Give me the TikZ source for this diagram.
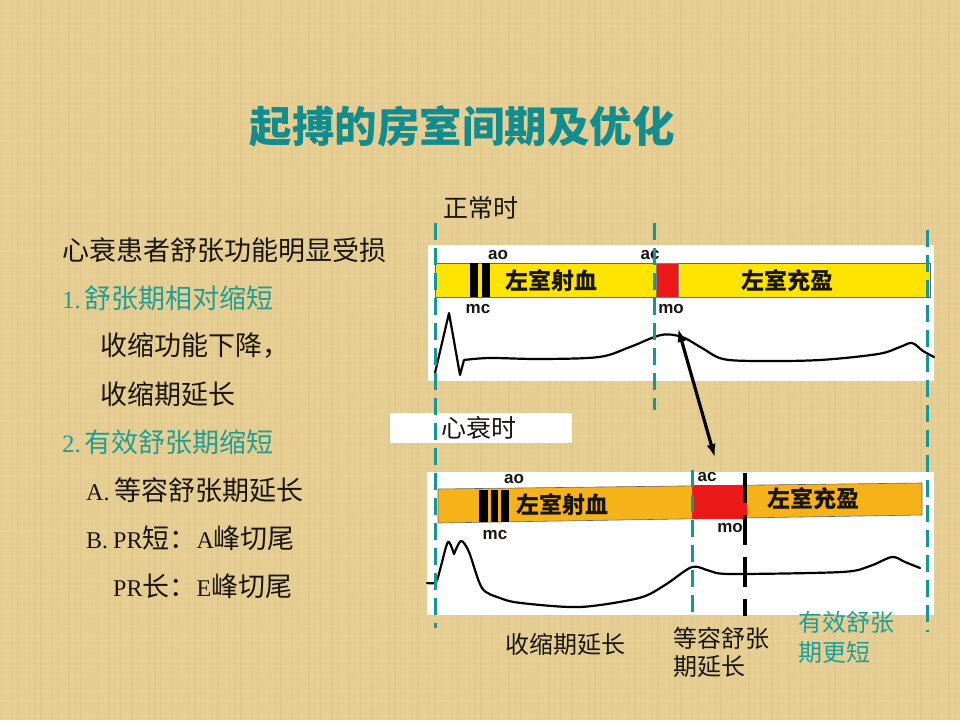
\documentclass[tikz,border=0pt]{standalone}
\usepackage{fontspec}
\setmainfont{Liberation Serif}
\newfontfamily\cjk{Noto Sans CJK SC}
\newfontfamily\lsans{Liberation Sans}
\usetikzlibrary{arrows.meta}
\definecolor{bgc}{RGB}{230,206,146}
\definecolor{titlec}{RGB}{18,140,140}
\definecolor{tealt}{RGB}{32,158,150}
\definecolor{dashc}{RGB}{22,150,150}
\definecolor{yelbar}{RGB}{255,228,0}
\definecolor{orabar}{RGB}{245,178,25}
\definecolor{redbar}{RGB}{235,25,25}
\definecolor{ink}{RGB}{25,22,18}
\tikzset{
  lt/.style={anchor=west,inner sep=0pt,text=ink,font=\fontsize{27}{32}\selectfont},
  barlabel/.style={inner sep=0pt,text=ink,font=\cjk\bfseries\fontsize{23}{26}\selectfont},
  valve/.style={inner sep=0pt,text=ink,font=\lsans\bfseries\fontsize{17}{19}\selectfont},
  captext/.style={anchor=west,inner sep=0pt,text=ink,font=\cjk\fontsize{24}{28}\selectfont},
  tdash/.style={draw=dashc,line width=3pt,dash pattern=on 17pt off 8pt},
  bdash/.style={draw=black,line width=3.8pt,dash pattern=on 30pt off 12pt},
  wave/.style={draw=black,line width=2.2pt,line join=round,line cap=round},
  panel/.style={fill=white,draw=none},
}
\begin{document}
\begin{tikzpicture}[x=1pt,y=-1pt]
\path[use as bounding box,fill=bgc] (0,0) rectangle (960,720);
% faint parchment texture
\foreach \i in {0,...,119}{
  \pgfmathsetmacro{\op}{0.02+0.05*mod(\i*37,11)/11}
  \pgfmathsetmacro{\xx}{\i*8+mod(\i*13,5)}
  \fill[brown!70!black,opacity=\op] (\xx,0) rectangle (\xx+1.5,720);
}
\foreach \j in {0,...,89}{
  \pgfmathsetmacro{\op}{0.02+0.05*mod(\j*23,7)/7}
  \pgfmathsetmacro{\yy}{\j*8+mod(\j*17,5)}
  \fill[white,opacity=\op] (0,\yy) rectangle (960,\yy+1.5);
}

% title
\node[inner sep=0pt,text=titlec,font=\cjk\bfseries\fontsize{42.5}{46}\selectfont] (title) at (462,126) {起搏的房室间期及优化};

% left text
\node[lt] (l1) at (62,250) {\cjk 心衰患者舒张功能明显受损};
\node[lt,text=tealt] (l2) at (62,298) {\fontsize{25}{30}\selectfont 1.\hspace{4pt}\cjk\fontsize{27}{32}\selectfont 舒张期相对缩短};
\node[lt] (l3) at (100,346) {\cjk 收缩功能下降，};
\node[lt] (l4) at (100,394) {\cjk 收缩期延长};
\node[lt,text=tealt] (l5) at (62,442) {\fontsize{25}{30}\selectfont 2.\hspace{4pt}\cjk\fontsize{27}{32}\selectfont 有效舒张期缩短};
\node[lt] (l6) at (86,490) {\fontsize{24}{30}\selectfont A.\hspace{5pt}\cjk\fontsize{27}{32}\selectfont 等容舒张期延长};
\node[lt] (l7) at (86,538) {\fontsize{24}{30}\selectfont B.\hspace{5pt}PR{\cjk\fontsize{27}{32}\selectfont 短：}A{\cjk\fontsize{27}{32}\selectfont 峰切尾}};
\node[lt] (l8) at (113,586) {\fontsize{24}{30}\selectfont PR{\cjk\fontsize{27}{32}\selectfont 长：}E{\cjk\fontsize{27}{32}\selectfont 峰切尾}};

% ---------- top panel ----------
\node[captext,font=\cjk\fontsize{25}{28}\selectfont] (normal) at (443,208) {正常时};
\path[panel] (428,245) rectangle (934,381);
\path[fill=yelbar,draw=black!60,line width=0.6pt] (435,263) rectangle (930,297);
\fill[black] (470,263) rectangle (478,297);
\fill[black] (482,263) rectangle (490,297);
\path[fill=redbar,draw=black!50,line width=0.5pt] (656,263) rectangle (678,297);
\node[barlabel] (tlv1) at (551,281) {左室射血};
\node[barlabel] (tlv2) at (787,281) {左室充盈};
\node[valve] (tao) at (498,255) {ao};
\node[valve] (tac) at (650,255) {ac};
\node[valve] (tmc) at (478,309) {mc};
\node[valve] (tmo) at (671,309) {mo};
\draw[wave] (435,373) -- (449,313) -- (460,375) -- (464,360)
  plot[smooth,tension=0.55] coordinates {(464,360) (490,358) (540,359) (599,357) (630,347) (661,335) (682,337) (702,348) (723,359) (760,361) (820,360) (878,354) (900,347) (912,343) (923,351) (934,357)};

% ---------- bottom panel ----------
\path[panel] (390,413) rectangle (572,443);
\node[captext,font=\cjk\fontsize{25}{28}\selectfont] (hf) at (441,428) {心衰时};
\path[panel] (427,472) rectangle (934,615);
\path[fill=orabar,draw=black!60,line width=0.6pt] (438,489) -- (922,483) -- (922,515) -- (438,523) -- cycle;
\fill[black] (479,490) rectangle (488,522);
\fill[black] (491,490) rectangle (498,522);
\fill[black] (501,490) rectangle (509,522);
\path[fill=redbar] (692,485) rectangle (747,519);
\node[barlabel] (blv1) at (562,505) {左室射血};
\node[barlabel] (blv2) at (813,499) {左室充盈};
\node[valve] (bao) at (514,479) {ao};
\node[valve] (bmc) at (495,535) {mc};
\node[valve] (bac) at (707,477) {ac};
\node[valve] (bmo) at (730,528) {mo};
\draw[wave] plot[smooth,tension=0.5] coordinates {(427,583) (436,582) (441,566) (448,542) (454,554)};
\draw[wave] plot[smooth,tension=0.5] coordinates {(454,554) (461,541) (469,552) (482,588) (500,598) (521,603) (580,607) (639,598) (665,585) (692,567) (710,571) (731,574) (842,572) (870,566) (892,557) (905,562) (920,568)};

% dashed guide lines
\coordinate (dL1) at (435,223); \coordinate (dL2) at (435,628);
\coordinate (dM1) at (654,223); \coordinate (dM2) at (654,410);
\coordinate (dR1) at (927,230); \coordinate (dR2) at (927,632);
\coordinate (dB1) at (692,470); \coordinate (dB2) at (692,620);
\coordinate (dK1) at (745,473); \coordinate (dK2) at (745,616);
\draw[tdash] (dL1) -- (dL2);
\draw[tdash] (dM1) -- (dM2);
\draw[tdash] (dR1) -- (dR2);
\draw[tdash] (dB1) -- (dB2);
\draw[bdash] (dK1) -- (dK2);

% arrow
\coordinate (aTop) at (678,328);
\coordinate (aBot) at (715,458);
\draw[line width=3.2pt,{Latex[length=14pt,width=9pt]}-{Latex[length=14pt,width=9pt]}] (aTop) -- (aBot);

% bottom captions
\node[inner sep=0pt,text=ink,font=\cjk\fontsize{24}{28}\selectfont] (c1) at (565,644) {收缩期延长};
\node[captext] (c2) at (673,638) {等容舒张};
\node[captext] (c3) at (673,667) {期延长};
\node[captext,text=tealt] (c4) at (798,622) {有效舒张};
\node[captext,text=tealt] (c5) at (798,652) {期更短};
\end{tikzpicture}
\end{document}
